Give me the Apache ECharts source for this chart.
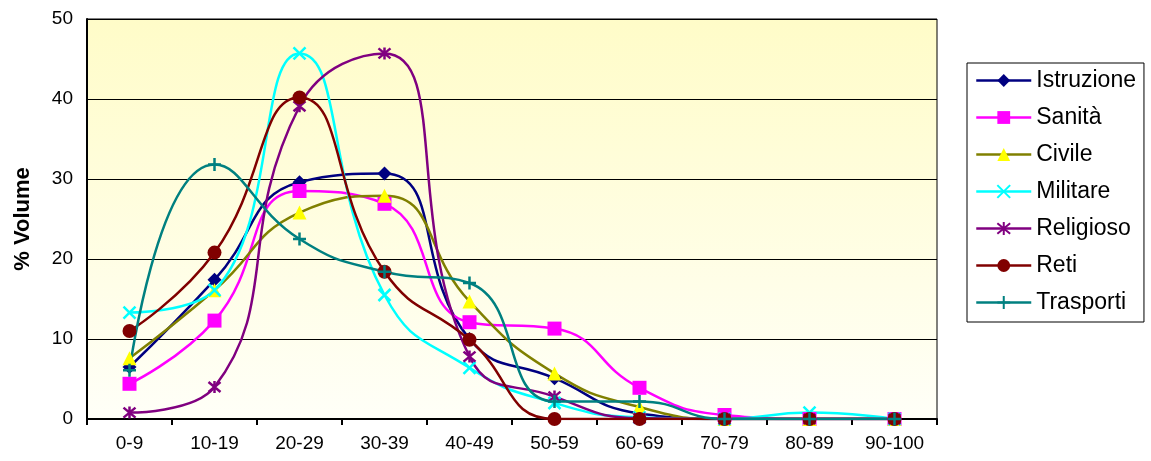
<!DOCTYPE html>
<html>
<head>
<meta charset="utf-8">
<script src="https://cdn.jsdelivr.net/npm/echarts@6/dist/echarts.min.js"></script>
<style>
html,body{margin:0;padding:0;background:#fff;}
#c{width:1151px;height:461px;}
</style>
</head>
<body>
<div id="c"></div>
<script>
const categories = ['0-9','10-19','20-29','30-39','40-49','50-59','60-69','70-79','80-89','90-100'];
const istruzione = [6.5, 17.4, 29.6, 30.7, 10.0, 5.1, 0.7, 0, 0, 0];
const sanita     = [4.4, 12.3, 28.5, 26.9, 12.1, 11.3, 3.9, 0.5, 0, 0];
const civile     = [7.6, 16.1, 25.8, 27.9, 14.7, 5.7, 1.5, 0, 0, 0];
const militare   = [13.3, 16.1, 45.7, 15.5, 6.4, 2.0, 0.2, 0, 0.8, 0];
const religioso  = [0.8, 4.0, 39.1, 45.7, 7.8, 2.8, 0.1, 0, 0, 0];
const reti       = [11.0, 20.8, 40.2, 18.4, 9.9, 0, 0, 0, 0, 0];
const trasporti  = [6.1, 31.8, 22.5, 18.4, 17.0, 2.2, 2.2, 0, 0, 0];
const yTicks = [0, 10, 20, 30, 40, 50];

const FONT = '"Liberation Sans", Arial, sans-serif';
const X_PATH = 'path://M0,0L10,10M10,0L0,10';
const AST_PATH = 'path://M0,0L10,10M10,0L0,10M5,-1L5,11';
const PLUS_PATH = 'path://M5,0L5,10M0,5L10,5';

function mk(name, data, lineColor, symbol, size, fill, stroke) {
  return {
    name: name, type: 'line', data: data, smooth: 0.5,
    symbol: symbol, symbolSize: size,
    lineStyle: {color: lineColor, width: 2.5},
    itemStyle: {color: fill, borderColor: stroke, borderWidth: stroke ? 2.5 : 0},
    emphasis: {disabled: true},
    animation: false
  };
}

const series = [
  mk('Istruzione', istruzione, '#000080', 'diamond', 14, '#000080', null),
  mk('Sanità', sanita, '#FF00FF', 'rect', 14, '#FF00FF', null),
  mk('Civile', civile, '#808000', 'triangle', 14, '#FFFF00', null),
  mk('Militare', militare, '#00FFFF', X_PATH, 12, '#00FFFF', '#00FFFF'),
  mk('Religioso', religioso, '#800080', AST_PATH, 12, '#800080', '#800080'),
  mk('Reti', reti, '#800000', 'circle', 14, '#800000', null),
  mk('Trasporti', trasporti, '#008080', PLUS_PATH, 13, '#008080', '#008080')
];

const chart = echarts.init(document.getElementById('c'), null, {renderer: 'canvas'});
chart.setOption({
  animation: false,
  backgroundColor: '#ffffff',
  grid: {
    left: 87, right: 214, top: 19, bottom: 42,
    show: true,
    borderColor: '#000', borderWidth: 1,
    backgroundColor: {type: 'linear', x: 0, y: 0, x2: 0, y2: 1,
      colorStops: [{offset: 0, color: '#FFFCC8'}, {offset: 1, color: '#FFFFF8'}]}
  },
  legend: {
    orient: 'vertical',
    left: 967, top: 63,
    padding: [6, 8, 8, 8],
    borderColor: '#000', borderWidth: 1,
    backgroundColor: '#fff',
    itemWidth: 55, itemHeight: 16, itemGap: 14,
    lineStyle: {width: 2.5},
    textStyle: {fontFamily: FONT, fontSize: 23, color: '#000', lineHeight: 22},
    data: series.map(s => s.name)
  },
  xAxis: {
    type: 'category', data: categories, boundaryGap: true,
    axisLine: {lineStyle: {color: '#000', width: 2}},
    axisTick: {show: true, length: 6, lineStyle: {color: '#000', width: 2}},
    axisLabel: {fontFamily: FONT, fontSize: 19, color: '#000', margin: 15},
    splitLine: {show: false}
  },
  yAxis: {
    type: 'value', min: yTicks[0], max: yTicks[yTicks.length - 1], interval: 10,
    name: '% Volume', nameLocation: 'middle', nameGap: 53,
    nameTextStyle: {fontFamily: FONT, fontSize: 22, fontWeight: 'bold', color: '#000'},
    axisLine: {show: true, lineStyle: {color: '#000', width: 2}},
    axisTick: {show: false},
    axisLabel: {fontFamily: FONT, fontSize: 19, color: '#000', margin: 14},
    splitLine: {show: true, lineStyle: {color: '#000', width: 1}}
  },
  series: series
});
</script>
</body>
</html>
